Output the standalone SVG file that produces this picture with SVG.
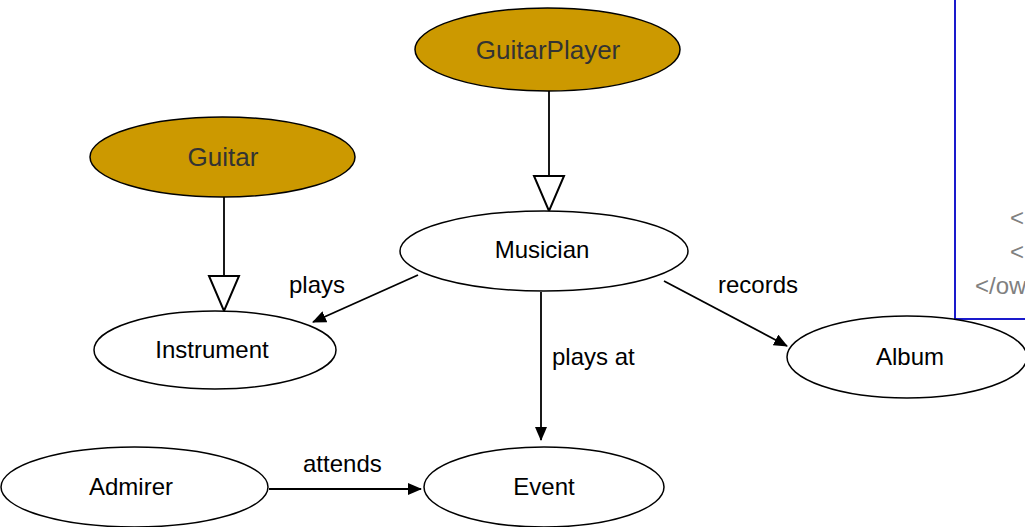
<svg xmlns="http://www.w3.org/2000/svg" width="1025" height="527" viewBox="0 0 1025 527">
  <style>
    .node { fill: #ffffff; stroke: #000000; stroke-width: 1.5; }
    .cls { fill: #cc9900; stroke: #000000; stroke-width: 1.5; }
    .lbl { font-family: "Liberation Sans", Arial, sans-serif; font-size: 24px; fill: #000000; text-anchor: middle; }
    .clbl { font-family: "Liberation Sans", Arial, sans-serif; font-size: 26px; fill: #333333; text-anchor: middle; }
    .elbl { font-family: "Liberation Sans", Arial, sans-serif; font-size: 24px; fill: #000000; }
    .edge { fill: none; stroke: #000000; stroke-width: 1.8; }
    .sub { marker-end: url(#hollow); }
    .rel { marker-end: url(#solid); }
    .code { font-family: "Liberation Sans", Arial, sans-serif; font-size: 24px; fill: #808080; }
  </style>
  <defs>
    <marker id="solid" viewBox="0 0 14 12" refX="13" refY="6" markerWidth="14" markerHeight="12" markerUnits="userSpaceOnUse" orient="auto">
      <path d="M0,0 L14,6 L0,12 z" fill="#000000"/>
    </marker>
    <marker id="hollow" viewBox="-2 -17 40 34" refX="35" refY="0" markerWidth="40" markerHeight="34" markerUnits="userSpaceOnUse" orient="auto" overflow="visible">
      <path d="M0,-15 L0,15 L35,0 z" fill="#ffffff" stroke="#000000" stroke-width="2" stroke-linejoin="miter"/>
    </marker>
  </defs>

  <rect width="1025" height="527" fill="#ffffff"/>

  <!-- source panel, partly off-canvas -->
  <g id="source-panel">
    <rect x="955" y="-10" width="100" height="329" fill="#ffffff" stroke="#1a1acc" stroke-width="2"/>
    <text class="code" x="1010" y="226">&lt;</text>
    <text class="code" x="1010" y="260">&lt;</text>
    <text class="code" x="975" y="294">&lt;/ow</text>
  </g>

  <g id="connectors">
    <path class="edge sub" d="M224,197 L224,311"/>
    <path class="edge sub" d="M549,91 L549,211"/>
    <path class="edge rel" d="M418,275 L313,322"/>
    <path class="edge rel" d="M664,281 L787,346"/>
    <path class="edge rel" d="M541,292 L541,440"/>
    <path class="edge rel" d="M269,489 L421,489"/>
    <text class="elbl" x="289" y="293">plays</text>
    <text class="elbl" x="718" y="293">records</text>
    <text class="elbl" x="552" y="365">plays at</text>
    <text class="elbl" x="303" y="472">attends</text>
  </g>

  <g id="GuitarPlayer">
    <ellipse class="cls" cx="547.5" cy="49.5" rx="132.5" ry="41.5"/>
    <text class="clbl" x="548" y="59">GuitarPlayer</text>
  </g>
  <g id="Guitar">
    <ellipse class="cls" cx="222.5" cy="157" rx="132.5" ry="40"/>
    <text class="clbl" x="223" y="166">Guitar</text>
  </g>
  <g id="Musician">
    <ellipse class="node" cx="544" cy="251" rx="144" ry="40"/>
    <text class="lbl" x="542" y="258">Musician</text>
  </g>
  <g id="Instrument">
    <ellipse class="node" cx="215" cy="350" rx="121" ry="39"/>
    <text class="lbl" x="212" y="358">Instrument</text>
  </g>
  <g id="Album">
    <ellipse class="node" cx="907" cy="357" rx="120" ry="41"/>
    <text class="lbl" x="910" y="365">Album</text>
  </g>
  <g id="Admirer">
    <ellipse class="node" cx="134.5" cy="487" rx="133.5" ry="40"/>
    <text class="lbl" x="131" y="495">Admirer</text>
  </g>
  <g id="Event">
    <ellipse class="node" cx="544" cy="487" rx="120" ry="40"/>
    <text class="lbl" x="544" y="495">Event</text>
  </g>
</svg>
